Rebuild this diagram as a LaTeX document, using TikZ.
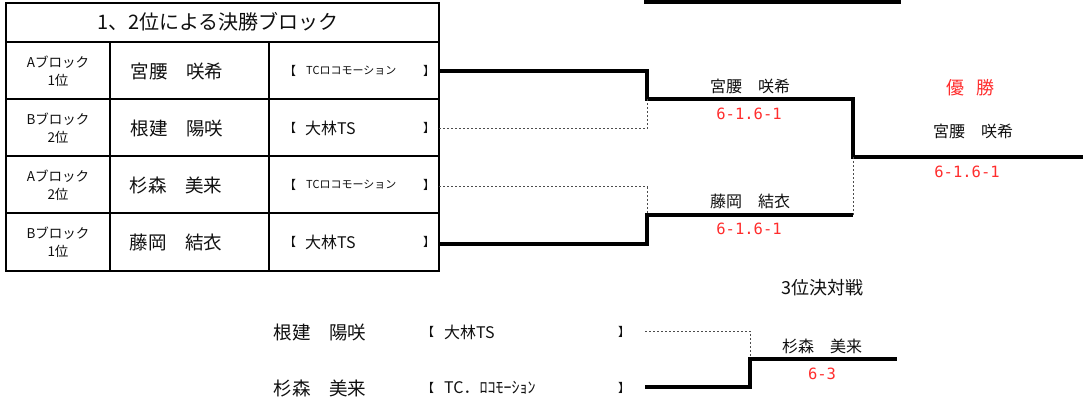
\documentclass[tikz,border=0pt]{standalone}
\usepackage{fontspec}
\setmainfont{Noto Sans CJK JP}
\newfontfamily\scorefont{DejaVu Sans Mono}
\definecolor{wred}{RGB}{255,45,45}
\definecolor{ink}{RGB}{15,15,15}
\begin{document}
\begin{tikzpicture}[x=1pt,y=-1pt,
  grid/.style={line width=2pt},
  win/.style={line width=3.2pt},
  lose/.style={line width=1pt, dash pattern=on 2pt off 2pt, black!70},
  txt/.style={inner sep=0pt, text=ink},
  hdr/.style={txt, font=\fontsize{20}{22}\selectfont},
  blk/.style={txt, font=\fontsize{13.5}{18}\selectfont, align=center},
  nm/.style={txt, font=\fontsize{18.5}{20}\selectfont},
  brk/.style={txt, font=\fontsize{12}{14}\selectfont},
  tmS/.style={txt, font=\fontsize{11}{13}\selectfont, anchor=west},
  tmL/.style={txt, font=\fontsize{16}{18}\selectfont, anchor=west},
  rn/.style={txt, font=\fontsize{16}{18}\selectfont},
  sc/.style={inner sep=0pt, text=wred, font=\scorefont\fontsize{15.5}{18}\selectfont},
  ttl/.style={inner sep=0pt, text=wred, font=\fontsize{18}{20}\selectfont}
]
\useasboundingbox (0,0) rectangle (1083,403);

% ---- table ----
\draw[grid] (6,3) rectangle (439,271);
\foreach \yy in {42,99,156,213} \draw[grid] (6,\yy) -- (439,\yy);
\draw[grid] (110,42) -- (110,271);
\draw[grid] (269,42) -- (269,271);

\node[hdr] (head) at (218,22) {1、2位による決勝ブロック};

\node[blk] (b1) at (58,71) {Aブロック\\1位};
\node[blk] (b2) at (58,128) {Bブロック\\2位};
\node[blk] (b3) at (58,185) {Aブロック\\2位};
\node[blk] (b4) at (58,242) {Bブロック\\1位};

\node[nm] (n1) at (177,71) {宮腰　咲希};
\node[nm] (n2) at (177,128) {根建　陽咲};
\node[nm] (n3) at (176,185) {杉森　美来};
\node[nm] (n4) at (176,242) {藤岡　結衣};

\node[brk] (lb1) at (290,71) {【};
\node[brk] (lb2) at (290,128) {【};
\node[brk] (lb3) at (290,185) {【};
\node[brk] (lb4) at (290,242) {【};
\node[brk] (rb1) at (429,71) {】};
\node[brk] (rb2) at (429,128) {】};
\node[brk] (rb3) at (429,185) {】};
\node[brk] (rb4) at (429,242) {】};
\node[tmS] (t1) at (306,71) {TCロコモーション};
\node[tmL] (t2) at (305,128) {大林TS};
\node[tmS] (t3) at (306,185) {TCロコモーション};
\node[tmL] (t4) at (305,242) {大林TS};

% ---- top right partial box ----
\draw[win] (646,-3) -- (646,2) -- (899,2) -- (899,-3);

% ---- bracket ----
\coordinate (e1) at (439,71);
\coordinate (e2) at (439,129);
\coordinate (e3) at (439,187);
\coordinate (e4) at (439,244);
\coordinate (j1) at (647,99);
\coordinate (j2) at (647,215);
\coordinate (k1) at (853,99);
\coordinate (k2) at (853,215);
\coordinate (f) at (853,157);
\coordinate (fin) at (1086,157);

\draw[win] (e1) -| (j1) -- (k1) -- (f) -- (fin);
\draw[lose] (e2) -| (j1);
\draw[lose] (e3) -| (j2);
\draw[win] (e4) -| (j2) -- (k2);
\draw[lose] (k2) -- (f);

\node[rn] (w1) at (750,86) {宮腰　咲希};
\node[sc] (s1) at (749,114) {6-1.6-1};
\node[rn] (w2) at (750,201) {藤岡　結衣};
\node[sc] (s2) at (749,229) {6-1.6-1};

\node[ttl] (champ) at (970,88) {優\hspace{12pt}勝};
\node[rn] (w3) at (973,131) {宮腰　咲希};
\node[sc] (s3) at (967,172) {6-1.6-1};

% ---- third place ----
\node[txt, font=\fontsize{18}{20}\selectfont] (third) at (822,288) {3位決対戦};

\node[nm] (p1) at (320,332) {根建　陽咲};
\node[nm] (p2) at (320,388) {杉森　美来};
\node[brk] (plb1) at (428,332) {【};
\node[brk] (plb2) at (428,388) {【};
\node[brk] (prb1) at (624,332) {】};
\node[brk] (prb2) at (624,388) {】};
\node[tmL] (pt1) at (444,332) {大林TS};
\node[tmL] (pt2) at (444,388) {TC．ﾛｺﾓｰｼｮﾝ};

\coordinate (q1) at (645,331);
\coordinate (q2) at (645,387);
\coordinate (m) at (750,359);
\coordinate (mend) at (897,359);
\draw[lose] (q1) -| (m);
\draw[win] (q2) -| (m) -- (mend);

\node[rn] (w4) at (822,346) {杉森　美来};
\node[sc] (s4) at (822,374) {6-3};
\end{tikzpicture}
\end{document}
